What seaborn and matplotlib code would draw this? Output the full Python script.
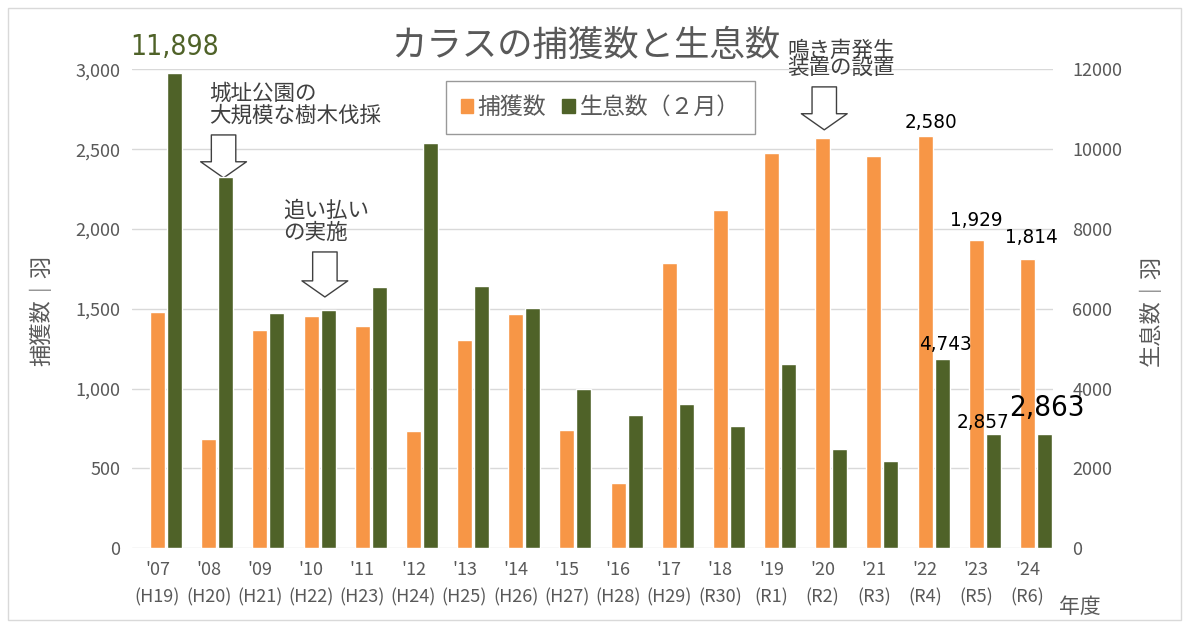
import pandas as pd
import matplotlib
matplotlib.use("Agg")
import matplotlib.pyplot as plt
import seaborn as sns
from matplotlib import font_manager as fm
from matplotlib.patches import Patch, Rectangle
from matplotlib.ticker import FuncFormatter, MultipleLocator

# data
years = ["'07", "'08", "'09", "'10", "'11", "'12", "'13", "'14", "'15",
         "'16", "'17", "'18", "'19", "'20", "'21", "'22", "'23", "'24"]
eras = ["(H19)", "(H20)", "(H21)", "(H22)", "(H23)", "(H24)", "(H25)", "(H26)", "(H27)",
        "(H28)", "(H29)", "(R30)", "(R1)", "(R2)", "(R3)", "(R4)", "(R5)", "(R6)"]
capture = [1479, 682, 1364, 1452, 1395, 734, 1307, 1470, 739,
           408, 1787, 2119, 2477, 2567, 2454, 2580, 1929, 1814]
population = [11898, 9295, 5906, 5974, 6543, 10158, 6576, 6024, 3991,
              3330, 3614, 3070, 4618, 2493, 2192, 4743, 2857, 2863]

cap_name = "捕獲数"
pop_name = "生息数（２月）"
hue_order = ["_", cap_name, pop_name]   # empty first slot like the original
colors = {"_": "white", cap_name: "#f79646", pop_name: "#4f6228"}

df_cap = pd.DataFrame({"year": years, "series": cap_name, "value": capture})
df_pop = pd.DataFrame({"year": years, "series": pop_name, "value": population})

sns.set_style("white")
plt.rcParams["font.family"] = ["Noto Sans CJK JP", "DejaVu Sans"]
gray = "#595959"
txt = "#404040"

# narrow face for the value labels if one is installed
installed = {(f.name, f.stretch) for f in fm.fontManager.ttflist}
if any(n == "Liberation Sans Narrow" for n, _ in installed):
    num_kw = dict(family="Liberation Sans Narrow")
    num_scale = 1.0
elif ("DejaVu Sans", "condensed") in installed:
    num_kw = dict(family="DejaVu Sans", fontstretch="condensed")
    num_scale = 0.92
else:
    num_kw = dict(family="Noto Sans CJK JP")
    num_scale = 0.85

fig = plt.figure(figsize=(11.89, 6.28), dpi=100)
ax1 = fig.add_axes([0.111, 0.127, 0.7746, 0.7626])
ax2 = ax1.twinx()

sns.barplot(data=df_cap, x="year", y="value", hue="series", hue_order=hue_order,
            palette=colors, saturation=1, dodge=True, width=1.0, gap=0.12,
            legend=False, ax=ax1)
sns.barplot(data=df_pop, x="year", y="value", hue="series", hue_order=hue_order,
            palette=colors, saturation=1, dodge=True, width=1.0, gap=0.12,
            legend=False, ax=ax2)

ax1.set_ylim(0, 3000)
ax2.set_ylim(0, 12000)
ax1.set_xlim(-0.5, len(years) - 0.5)
ax1.yaxis.set_major_locator(MultipleLocator(500))
ax2.yaxis.set_major_locator(MultipleLocator(2000))
ax1.yaxis.set_major_formatter(FuncFormatter(lambda v, _: f"{int(v):,}"))
ax1.grid(axis="y", color="#d9d9d9", lw=1)
ax1.set_axisbelow(True)
ax2.grid(False)
for a in (ax1, ax2):
    for s in a.spines.values():
        s.set_visible(False)

ax1.set_xticks(range(len(years)))
ax1.set_xticklabels([f"{y}\n{e}" for y, e in zip(years, eras)], linespacing=1.7)
ax1.tick_params(axis="x", length=0, pad=9, labelsize=13, labelcolor=gray)
ax1.tick_params(axis="y", length=0, pad=8.5, labelsize=13, labelcolor=gray)
ax2.tick_params(axis="y", length=0, pad=14, labelsize=13, labelcolor=gray)
ax1.set_xlabel("")
ax1.set_ylabel("捕獲数｜羽", fontsize=16, color=gray)
ax2.set_ylabel("生息数｜羽", fontsize=16, color=gray, rotation=90)
ax1.yaxis.set_label_coords(-0.085, 0.497)
ax2.yaxis.set_label_coords(1.094, 0.497)

fig.text(586 / 1189, 1 - 46 / 628, "カラスの捕獲数と生息数", fontsize=25.5,
         color=gray, ha="center", va="center")
fig.text(1080 / 1189, 1 - 607 / 628, "年度", fontsize=15, color=gray,
         ha="center", va="center")

handles = [Patch(color=colors[cap_name]), Patch(color=colors[pop_name])]
fig.legend(handles, [cap_name, pop_name], loc="center", ncol=2,
           bbox_to_anchor=(0.5047, 0.8288), fontsize=16.5, frameon=True,
           fancybox=False, edgecolor="#808080", handlelength=0.55, handleheight=0.55,
           handletextpad=0.2, columnspacing=0.7, borderpad=0.65, labelcolor=gray)

# value labels above selected bars (index, offset px up, size, colour, offset px side)
cap_labels = [(15, 14, 16, "black", 6), (16, 20, 16, "black", 0), (17, 21, 16, "black", 4)]
for i, dy, size, col, dx in cap_labels:
    ax1.annotate(f"{capture[i]:,}", xy=(i, capture[i]), xytext=(dx * 0.72, dy * 0.72),
                 textcoords="offset points", ha="center", va="center",
                 fontsize=size * num_scale, color=col, **num_kw)
pop_labels = [(0, 26, 22, "#4f6228", 0), (15, 14, 16, "black", 3),
              (16, 12, 16, "black", -10), (17, 26, 23, "black", 2)]
for i, dy, size, col, dx in pop_labels:
    ax2.annotate(f"{population[i]:,}", xy=(i + 1 / 3, population[i]),
                 xytext=(dx * 0.72, dy * 0.72), textcoords="offset points",
                 ha="center", va="center", fontsize=size * num_scale, color=col,
                 **num_kw)

# event notes with hollow arrows
arrow = dict(arrowstyle="simple,head_length=0.58,head_width=1.65,tail_width=0.88",
             fc="white", ec=txt, lw=1, shrinkA=0, shrinkB=0, mutation_scale=20)
ax1.text(1.0, 2918, "城址公園の\n大規模な樹木伐採", fontsize=15.5, color=txt,
         ha="left", va="top", linespacing=1.0)
ax1.annotate("", xy=(1.29, 2320), xytext=(1.29, 2589), arrowprops=arrow)
ax1.text(2.45, 2184, "追い払い\nの実施", fontsize=15.5, color=txt,
         ha="left", va="top", linespacing=1.0)
ax1.annotate("", xy=(3.27, 1574), xytext=(3.27, 1856), arrowprops=arrow)
ax1.text(12.31, 3188, "鳴き声発生\n装置の設置", fontsize=15.5, color=txt,
         ha="left", va="top", linespacing=0.75, clip_on=False)
ax1.annotate("", xy=(13.03, 2621), xytext=(13.03, 2890), arrowprops=arrow,
             annotation_clip=False)

fig.patches.append(Rectangle((8 / 1189, 8 / 628), 1173 / 1189, 612 / 628,
                             transform=fig.transFigure, fill=False,
                             edgecolor="#d9d9d9", lw=1))

fig.savefig("out.png", dpi=100)
